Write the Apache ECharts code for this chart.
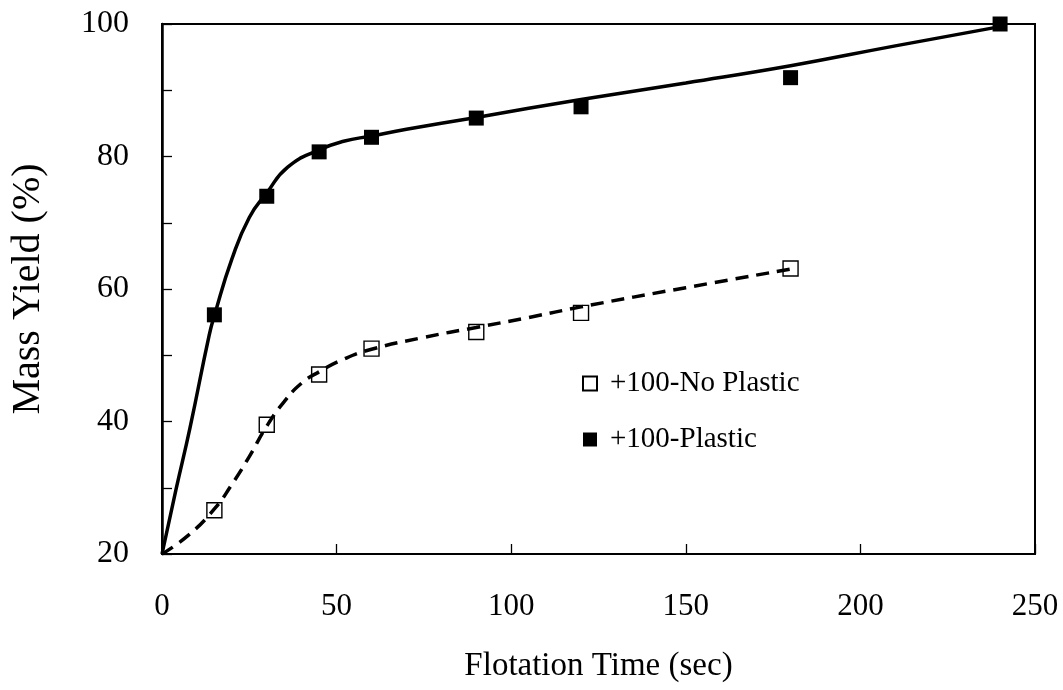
<!DOCTYPE html>
<html>
<head>
<meta charset="utf-8">
<script src="https://cdn.jsdelivr.net/npm/echarts@6/dist/echarts.min.js"></script>
<style>html,body{margin:0;padding:0;background:#fff;}#c{width:1063px;height:690px;}</style>
</head>
<body>
<div id="c"></div>
<script>
// Measured points
var timeNoPlastic = [15, 30, 45, 60, 90, 120, 180];
var yieldNoPlastic = [26.6, 39.5, 47.1, 51.0, 53.5, 56.4, 63.1];
var timePlastic = [15, 30, 45, 60, 90, 120, 180, 240];
var yieldPlastic = [56.1, 74.0, 80.7, 82.9, 85.8, 87.5, 91.9, 100];

// Fitted curves
var fitPlasticX = [0, 4, 8, 13.5, 15, 20, 25, 30, 36, 45, 52, 60, 70, 90, 120, 150, 180, 210, 240];
var fitPlasticY = [20, 29.7, 39, 53, 56, 64.5, 70.8, 74.5, 78.4, 81.0, 82.3, 83.1, 84.1, 85.9, 88.6, 91.1, 93.7, 96.7, 99.6];
var fitNoPlasticX = [0, 7.5, 15, 20, 25, 30, 35, 40, 45, 52, 60, 75, 90, 105, 120, 150, 180];
var fitNoPlasticY = [20, 22.8, 26.8, 30.5, 34.7, 39.3, 43.0, 45.8, 47.5, 49.4, 50.9, 52.7, 54.2, 55.7, 57.3, 60.2, 63.0];

var xTicks = [0, 50, 100, 150, 200, 250];
var yTicks = [20, 40, 60, 80, 100];

function pairs(xs, ys) { return xs.map(function (x, i) { return [x, ys[i]]; }); }

var FONT = 'Liberation Serif';
var chart = echarts.init(document.getElementById('c'), null, { renderer: 'canvas' });
chart.setOption({
  animation: false,
  backgroundColor: '#fff',
  grid: { left: 161, right: 28, top: 24, bottom: 136, show: true, borderColor: '#000', borderWidth: 2, backgroundColor: 'transparent' },
  xAxis: {
    type: 'value', min: xTicks[0], max: xTicks[xTicks.length - 1], interval: 50,
    name: 'Flotation Time (sec)', nameLocation: 'middle', nameGap: 96,
    nameTextStyle: { fontFamily: FONT, fontSize: 33, color: '#000' },
    axisLine: { show: true, lineStyle: { color: '#000', width: 2 } },
    axisTick: { show: true, inside: true, length: 10, lineStyle: { color: '#000', width: 1.3 } },
    axisLabel: { fontFamily: FONT, fontSize: 31, color: '#000', margin: 37 },
    splitLine: { show: false }
  },
  yAxis: {
    type: 'value', min: yTicks[0], max: yTicks[yTicks.length - 1], interval: 20,
    name: 'Mass Yield (%)', nameLocation: 'middle', nameGap: 114, nameRotate: 90,
    nameTextStyle: { fontFamily: FONT, fontSize: 40, color: '#000' },
    axisLine: { show: true, lineStyle: { color: '#000', width: 2.5 } },
    axisTick: { show: true, inside: true, length: 10, lineStyle: { color: '#000', width: 1.3 } },
    minorTick: { show: true, splitNumber: 2, length: 10, lineStyle: { color: '#000', width: 1.3 } },
    axisLabel: { fontFamily: FONT, fontSize: 32, color: '#000', margin: 33 },
    splitLine: { show: false }
  },
  legend: {
    orient: 'vertical', left: 577, top: 364, itemGap: 27,
    itemWidth: 14, itemHeight: 14, icon: 'rect',
    data: ['+100-No Plastic', '+100-Plastic'],
    textStyle: { fontFamily: FONT, fontSize: 29, color: '#000', padding: [0, 0, 0, 8] }
  },
  series: [
    {
      name: 'fitPlastic', type: 'line', data: pairs(fitPlasticX, fitPlasticY),
      symbol: 'none', smooth: 0.5, silent: true, z: 2,
      lineStyle: { color: '#000', width: 3.5 }
    },
    {
      name: 'fitNoPlastic', type: 'line', data: pairs(fitNoPlasticX, fitNoPlasticY),
      symbol: 'none', smooth: 0.5, silent: true, z: 2,
      lineStyle: { color: '#000', width: 3.5, type: [13, 8] }
    },
    {
      name: '+100-No Plastic', type: 'scatter', data: pairs(timeNoPlastic, yieldNoPlastic),
      symbol: 'rect', symbolSize: 15, z: 3,
      itemStyle: { color: 'rgba(255,255,255,0)', borderColor: '#000', borderWidth: 1.4, opacity: 1 }
    },
    {
      name: '+100-Plastic', type: 'scatter', data: pairs(timePlastic, yieldPlastic),
      symbol: 'rect', symbolSize: 15, z: 3,
      itemStyle: { color: '#000', opacity: 1 }
    }
  ]
});
</script>
</body>
</html>
